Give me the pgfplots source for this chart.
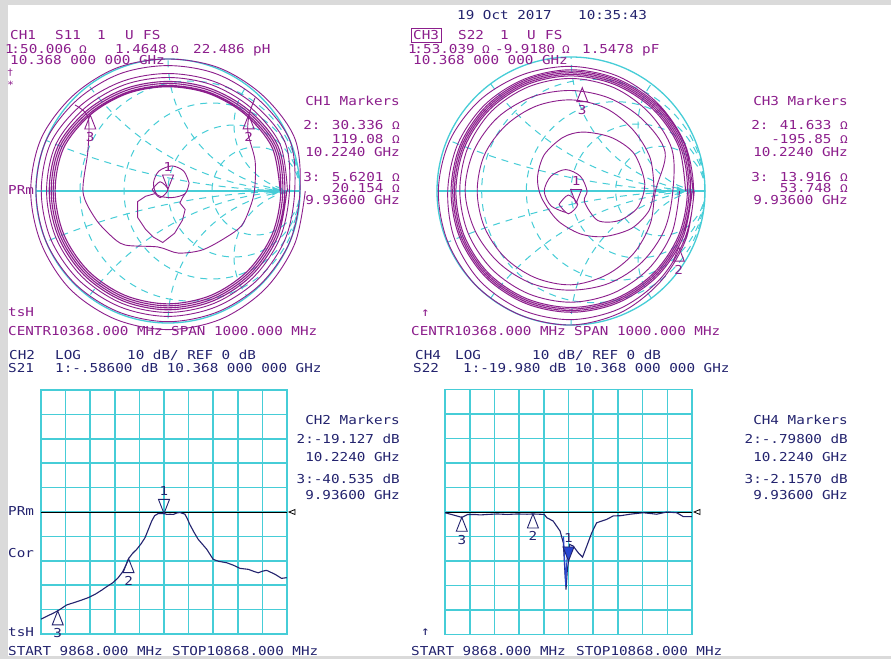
\documentclass[border=0pt]{standalone}
\usepackage{pgfplots}
\pgfplotsset{compat=1.18}
\usepackage{fontspec}
\newfontfamily\vna[FakeStretch=1.16]{DejaVu Sans Mono}
\newcommand{\vf}{\vna\fontsize{12.3}{14}\selectfont}
\newcommand{\om}{{\fontsize{11}{11}\selectfont Ω}}
\definecolor{vpur}{RGB}{140,30,140}
\definecolor{vnav}{RGB}{35,35,110}
\definecolor{vblu}{RGB}{40,70,210}
\definecolor{vcy}{RGB}{70,205,215}
\definecolor{vgray}{RGB}{218,218,218}
\newcommand{\TL}[4]{\node[anchor=base west,inner sep=0pt,text=#3] at (#1pt,-#2pt) {\vf #4};}
\newcommand{\TR}[4]{\node[anchor=base east,inner sep=0pt,text=#3] at (#1pt,-#2pt) {\vf #4};}
\newcommand{\mkup}[4]{\draw[#1,line width=0.9pt] (axis cs:#2,#3) -- ++(-5.5pt,-14pt) -- ++(11pt,0pt) -- cycle; \path (axis cs:#2,#3) ++(0pt,-27pt) node[anchor=base,inner sep=0pt,text=#1] {\vf #4};}
\newcommand{\mkdn}[4]{\draw[#1,line width=0.9pt] (axis cs:#2,#3) -- ++(-5.5pt,14pt) -- ++(11pt,0pt) -- cycle; \path (axis cs:#2,#3) ++(0pt,18pt) node[anchor=base,inner sep=0pt,text=#1] {\vf #4};}
\newcommand{\smithgrid}{%
 \begin{scope}
 \clip (axis cs:0,0) circle [radius=1];
 \draw[vcy,line width=1pt,dash pattern=on 7pt off 6pt] (axis cs:0.1667,0) circle [radius=0.8333];
 \draw[vcy,line width=1pt,dash pattern=on 7pt off 6pt] (axis cs:0.3333,0) circle [radius=0.6667];
 \draw[vcy,line width=1pt,dash pattern=on 7pt off 6pt] (axis cs:0.5,0) circle [radius=0.5];
 \draw[vcy,line width=1pt,dash pattern=on 7pt off 6pt] (axis cs:0.6667,0) circle [radius=0.3333];
 \draw[vcy,line width=1pt,dash pattern=on 7pt off 6pt] (axis cs:1,5) circle [radius=5];
 \draw[vcy,line width=1pt,dash pattern=on 7pt off 6pt] (axis cs:1,-5) circle [radius=5];
 \draw[vcy,line width=1pt,dash pattern=on 7pt off 6pt] (axis cs:1,2) circle [radius=2];
 \draw[vcy,line width=1pt,dash pattern=on 7pt off 6pt] (axis cs:1,-2) circle [radius=2];
 \draw[vcy,line width=1pt,dash pattern=on 7pt off 6pt] (axis cs:1,1) circle [radius=1];
 \draw[vcy,line width=1pt,dash pattern=on 7pt off 6pt] (axis cs:1,-1) circle [radius=1];
 \draw[vcy,line width=1pt,dash pattern=on 7pt off 6pt] (axis cs:1,0.5) circle [radius=0.5];
 \draw[vcy,line width=1pt,dash pattern=on 7pt off 6pt] (axis cs:1,-0.5) circle [radius=0.5];
 \end{scope}
 \draw[vcy,line width=1.3pt] (axis cs:0,0) circle [radius=1];
 \draw[vcy,line width=1.3pt] (axis cs:-1,0) -- (axis cs:1,0);
 \fill[vcy] (axis cs:0.79,0.035) -- (axis cs:0.86,0) -- (axis cs:0.79,-0.035) -- cycle;
}
\pgfplotsset{rectax/.style={scale only axis, anchor=north west,
  xmin=9.868, xmax=10.868, ymin=-50, ymax=50,
  xtick={9.868,9.968,10.068,10.168,10.268,10.368,10.468,10.568,10.668,10.768,10.868},
  ytick={-50,-40,-30,-20,-10,0,10,20,30,40,50},
  xticklabels={}, yticklabels={}, major tick length=0pt,
  grid=major, major grid style={vcy,line width=1.6pt},
  axis line style={vcy,line width=1.6pt}, clip=false},
  smithax/.style={scale only axis, anchor=north west, xmin=-1, xmax=1, ymin=-1, ymax=1,
  hide axis, clip=false}}
\begin{document}
\begin{tikzpicture}
\fill[vgray] (0pt,0pt) rectangle (891pt,-659pt);
\fill[white] (8pt,-5pt) rectangle (891pt,-656pt);

% ---------- S11 Smith chart ----------
\begin{axis}[smithax, at={(36pt,-59pt)}, width=264pt, height=264pt]
\smithgrid
\addplot[vpur, line width=0.9pt, data cs=polar, smooth, tension=0.55] coordinates {
(0,1.04) (-22.5,1.04) (-45,1.045) (-67.5,1.05) (-90,1.05) (-112.5,1.05) (-135,1.05) (-157.5,1.04)
(-180,1.04) (-202.5,1.04) (-225,1.02) (-247.5,1.01) (-270,1.00) (-292.5,1.01) (-315,1.02) (-337.5,1.04)
(0,1.00) (-22.5,1.00) (-45,0.995) (-67.5,0.99) (-90,0.99) (-112.5,0.99) (-135,0.995) (-157.5,1.00)
(-180,1.00) (-202.5,1.00) (-225,0.975) (-247.5,0.96) (-270,0.95) (-292.5,0.96) (-315,0.975) (-337.5,1.00)
(0,0.96) (-22.5,0.96) (-45,0.955) (-67.5,0.95) (-90,0.95) (-112.5,0.95) (-135,0.955) (-157.5,0.96)
(-180,0.96) (-202.5,0.96) (-225,0.925) (-247.5,0.90) (-270,0.89) (-292.5,0.90) (-315,0.925) (-337.5,0.96)
(0,0.92) (-22.5,0.92) (-45,0.92) (-67.5,0.92) (-90,0.92) (-112.5,0.92) (-135,0.92) (-157.5,0.92)
(-180,0.92) (-202.5,0.92) (-225,0.89) (-247.5,0.87) (-270,0.86) (-292.5,0.87) (-315,0.89) (-337.5,0.92)
(0,0.905)};
\addplot[vpur, line width=1.1pt, data cs=polar, smooth, tension=0.55] coordinates {
(0,0.90) (-22.5,0.90) (-45,0.90) (-67.5,0.90) (-90,0.90) (-112.5,0.90) (-135,0.90) (-157.5,0.90)
(-180,0.90) (-202.5,0.90) (-225,0.865) (-247.5,0.84) (-270,0.83) (-292.5,0.84) (-315,0.865) (-337.5,0.90)
(0,0.885) (-22.5,0.885) (-45,0.885) (-67.5,0.885) (-90,0.885) (-112.5,0.885) (-135,0.885) (-157.5,0.885)
(-180,0.885) (-202.5,0.885) (-225,0.85) (-247.5,0.825) (-270,0.815) (-292.5,0.825) (-315,0.85) (-337.5,0.885)
(0,0.87) (-22.5,0.87) (-45,0.87) (-67.5,0.87) (-90,0.87) (-112.5,0.87) (-135,0.87) (-157.5,0.87)
(-180,0.87) (-202.5,0.87) (-225,0.835) (-247.5,0.81) (-270,0.80) (-292.5,0.81) (-315,0.835) (-337.5,0.87)
(0,0.855) (-22.5,0.855) (-45,0.855) (-67.5,0.855) (-90,0.855) (-112.5,0.855) (-135,0.855) (-157.5,0.855)
(-180,0.855) (-202.5,0.855) (-225,0.823) (-247.5,0.80) (-270,0.79) (-292.5,0.80) (-315,0.823) (-337.5,0.855)
(0,0.85)};
\addplot[vpur, line width=0.9pt, smooth, tension=0.5] coordinates {
(-0.705,0.652) (-0.606,0.561) (-0.606,0.311) (-0.644,-0.008) (-0.553,-0.205) (-0.439,-0.333)
(-0.326,-0.409) (-0.076,-0.424) (0.076,-0.470) (0.258,-0.447) (0.432,-0.356) (0.561,-0.258)
(0.636,-0.083) (0.659,0.045) (0.659,0.235) (0.606,0.439) (0.614,0.576) (0.659,0.705)};
\addplot[vpur, line width=0.9pt, smooth, tension=0.5] coordinates {
(0.16,0.06) (0.12,0.15) (0.03,0.19) (-0.07,0.15) (-0.11,0.06) (-0.08,-0.03) (0.03,-0.05) (0.13,-0.02) (0.16,0.06)};
\addplot[vpur, line width=0.9pt, smooth] coordinates {
(-0.12,0.01) (-0.06,-0.05) (0,0.01) (-0.06,0.07) (-0.12,0.01)};
\addplot[vpur, line width=0.9pt] coordinates {
(-0.10,-0.02) (-0.17,-0.04) (-0.23,-0.08) (-0.23,-0.20) (-0.17,-0.29) (-0.11,-0.35) (-0.04,-0.39)
(0.05,-0.32) (0.11,-0.22) (0.13,-0.14) (0.09,-0.09) (0.11,-0.05) (0.13,-0.02)};
\mkdn{vpur}{0.0}{0.015}{1}
\mkup{vpur}{0.611}{0.577}{2}
\mkup{vpur}{-0.589}{0.576}{3}
\end{axis}

% ---------- S22 Smith chart ----------
\begin{axis}[smithax, at={(437pt,-57pt)}, width=268pt, height=268pt]
\smithgrid
\addplot[vpur, line width=0.9pt, data cs=polar, smooth, tension=0.55] coordinates {
(0,0.92) (-22.5,0.93) (-45,0.95) (-67.5,0.98) (-90,1.00) (-112.5,1.00) (-135,1.00) (-157.5,0.995)
(-180,0.99) (-202.5,0.98) (-225,0.96) (-247.5,0.94) (-270,0.93) (-292.5,0.925) (-315,0.92) (-337.5,0.92)
(0,0.915) (-22.5,0.92) (-45,0.935) (-67.5,0.95) (-90,0.96) (-112.5,0.96) (-135,0.955) (-157.5,0.94)
(-180,0.92) (-202.5,0.915) (-225,0.91) (-247.5,0.905) (-270,0.905) (-292.5,0.905) (-315,0.91) (-337.5,0.915)
(0,0.91)};
\addplot[vpur, line width=1.0pt, data cs=polar, smooth, tension=0.55] coordinates {
(0,0.905) (-22.5,0.905) (-45,0.905) (-67.5,0.905) (-90,0.905) (-112.5,0.905) (-135,0.905) (-157.5,0.9)
(-180,0.895) (-202.5,0.895) (-225,0.895) (-247.5,0.895) (-270,0.895) (-292.5,0.895) (-315,0.9) (-337.5,0.905)
(0,0.893) (-22.5,0.893) (-45,0.893) (-67.5,0.893) (-90,0.893) (-112.5,0.893) (-135,0.893) (-157.5,0.888)
(-180,0.883) (-202.5,0.883) (-225,0.883) (-247.5,0.883) (-270,0.883) (-292.5,0.883) (-315,0.888) (-337.5,0.893)
(0,0.881) (-22.5,0.881) (-45,0.881) (-67.5,0.881) (-90,0.881) (-112.5,0.881) (-135,0.881) (-157.5,0.876)
(-180,0.871) (-202.5,0.871) (-225,0.871) (-247.5,0.871) (-270,0.871) (-292.5,0.871) (-315,0.876) (-337.5,0.881)
(0,0.869) (-22.5,0.869) (-45,0.869) (-67.5,0.869) (-90,0.869) (-112.5,0.869) (-135,0.869) (-157.5,0.864)
(-180,0.859) (-202.5,0.859) (-225,0.859) (-247.5,0.859) (-270,0.859) (-292.5,0.859) (-315,0.864) (-337.5,0.869)
(0,0.855)};
\addplot[vpur, line width=0.9pt, data cs=polar, smooth, tension=0.55] coordinates {
(0,0.81) (-22.5,0.815) (-45,0.82) (-67.5,0.825) (-90,0.83) (-112.5,0.83) (-135,0.83) (-157.5,0.83)
(-180,0.83) (-202.5,0.835) (-225,0.84) (-247.5,0.84) (-270,0.84) (-292.5,0.835) (-315,0.825) (-337.5,0.815)
(0,0.76) (-22.5,0.755) (-45,0.75) (-67.5,0.745) (-90,0.74) (-112.5,0.75) (-135,0.76) (-157.5,0.775)
(-180,0.79) (-202.5,0.785) (-225,0.775) (-247.5,0.76) (-270,0.75) (-292.5,0.75) (-315,0.755) (-337.5,0.76)
(0,0.63) (-22.5,0.64) (-45,0.66) (-67.5,0.68) (-90,0.70) (-112.5,0.70) (-135,0.70) (-157.5,0.70)
(-180,0.70) (-202.5,0.70) (-225,0.69) (-247.5,0.685) (-270,0.68) (-292.5,0.67) (-315,0.65) (-337.5,0.64)
(0,0.62)};
\addplot[vpur, line width=0.9pt, smooth, tension=0.5] coordinates {
(0.62,0) (0.58,-0.15) (0.45,-0.28) (0.25,-0.34) (0.07,-0.32) (-0.10,-0.22) (-0.22,-0.05) (-0.25,0.10)
(-0.20,0.27) (-0.06,0.40) (0.09,0.44) (0.30,0.40) (0.47,0.28) (0.55,0.06) (0.50,-0.12) (0.36,-0.22)
(0.20,-0.22) (0.10,-0.08) (0.12,0.0) (0.07,0.11) (-0.04,0.16) (-0.15,0.11) (-0.20,0.0) (-0.15,-0.11)
(-0.04,-0.16)};
\addplot[vpur, line width=0.9pt, smooth] coordinates {
(-0.09,-0.10) (-0.02,-0.03) (0.05,-0.10) (-0.02,-0.17) (-0.09,-0.10)};
\mkdn{vpur}{0.038}{-0.093}{1}
\mkup{vpur}{0.804}{-0.419}{2}
\mkup{vpur}{0.084}{0.771}{3}
\end{axis}

% ---------- S21 log mag ----------
\begin{axis}[rectax, at={(41pt,-390pt)}, width=246pt, height=244pt]
\addplot[black, line width=1pt] coordinates {(9.868,0) (10.868,0)};
\draw[black, line width=0.8pt] (axis cs:10.868,0) ++(2pt,0pt) -- ++(6pt,2.5pt) -- ++(0pt,-5pt) -- cycle;
\addplot[vnav, line width=1.1pt] coordinates {
(9.868,-43.9) (9.890,-42.8) (9.915,-41.6) (9.936,-40.5) (9.950,-39.6) (9.972,-38.1) (10.000,-37.2)
(10.030,-36.2) (10.060,-35.1) (10.090,-33.6) (10.115,-32.0) (10.135,-30.6) (10.160,-29.0) (10.182,-26.9)
(10.200,-24.5) (10.212,-22.0) (10.224,-19.1) (10.240,-17.0) (10.257,-15.3) (10.275,-13.0) (10.291,-10.5)
(10.305,-7.0) (10.318,-3.7) (10.330,-1.5) (10.345,-0.6) (10.368,-0.6) (10.380,-1.0) (10.392,-0.9)
(10.406,-1.0) (10.420,-0.4) (10.433,-0.2) (10.453,-0.9) (10.463,-2.8) (10.473,-5.1) (10.490,-8.3)
(10.507,-11.2) (10.525,-13.3) (10.542,-15.3) (10.568,-19.4) (10.590,-20.2) (10.623,-20.8) (10.650,-21.8)
(10.677,-23.1) (10.711,-23.5) (10.735,-24.4) (10.751,-24.9) (10.770,-24.2) (10.785,-23.9) (10.800,-24.6)
(10.819,-25.5) (10.846,-27.2) (10.867,-26.9)};
\mkdn{vnav}{10.368}{-0.586}{1}
\mkup{vnav}{10.224}{-19.127}{2}
\mkup{vnav}{9.936}{-40.535}{3}
\end{axis}

% ---------- S22 log mag ----------
\begin{axis}[rectax, at={(445pt,-389.5pt)}, width=247pt, height=245pt]
\addplot[black, line width=1pt] coordinates {(9.868,0) (10.868,0)};
\draw[black, line width=0.8pt] (axis cs:10.868,0) ++(2pt,0pt) -- ++(6pt,2.5pt) -- ++(0pt,-5pt) -- cycle;
\addplot[vnav, line width=1.1pt] coordinates {
(9.868,-0.3) (9.890,-0.9) (9.905,-1.3) (9.936,-2.2) (9.960,-1.0) (9.990,-1.0) (10.010,-1.2) (10.040,-1.0)
(10.080,-0.8) (10.120,-1.0) (10.160,-0.8) (10.200,-0.9) (10.224,-0.8) (10.250,-0.9) (10.270,-1.0)
(10.280,-2.3) (10.306,-3.7) (10.334,-7.8) (10.347,-12.6) (10.354,-25.5) (10.358,-31.7) (10.363,-24.0)
(10.368,-19.98) (10.372,-13.2) (10.387,-13.9) (10.408,-16.7) (10.425,-18.4) (10.442,-13.9) (10.462,-8.5)
(10.482,-4.4) (10.523,-3.0) (10.549,-1.6) (10.580,-1.5) (10.617,-0.9) (10.671,-0.3) (10.725,-0.9)
(10.766,0.0) (10.806,-0.3) (10.833,-1.9) (10.867,-1.9)};
\addplot[vblu, line width=1pt] coordinates {
(10.348,-10.0) (10.353,-21.0) (10.357,-30.0) (10.360,-22.0) (10.365,-15.0)};
\fill[vblu] (axis cs:10.368,-19.98) -- ++(-5.5pt,14pt) -- ++(11pt,0pt) -- cycle;
\mkdn{vnav}{10.368}{-19.98}{1}
\mkup{vnav}{10.224}{-0.798}{2}
\mkup{vnav}{9.936}{-2.157}{3}
\end{axis}

% ---------- texts ----------
\TL{457}{19.5}{vnav}{19 Oct 2017}
\TL{578}{19.5}{vnav}{10:35:43}
% CH1 header
\TL{10}{39.5}{vpur}{CH1}
\TL{55}{39.5}{vpur}{S11}
\TL{97}{39.5}{vpur}{1}
\TL{125}{39.5}{vpur}{U}
\TL{143}{39.5}{vpur}{FS}
\TL{5}{53.5}{vpur}{1\kern-2.5pt:}
\TL{20}{53.5}{vpur}{50.006}
\TL{79}{53.5}{vpur}{\om}
\TL{115}{53.5}{vpur}{1.4648}
\TL{171}{53.5}{vpur}{\om}
\TL{193}{53.5}{vpur}{22.486}
\TL{253}{53.5}{vpur}{pH}
\TL{10}{64.5}{vpur}{10.368 000 000 GHz}
\node[anchor=base west,inner sep=0pt,text=vpur] at (7pt,-75pt) {\vna\fontsize{9}{9}\selectfont †};
\node[anchor=base west,inner sep=0pt,text=vpur] at (7pt,-88pt) {\vna\fontsize{10}{10}\selectfont *};
% CH3 header
\draw[vpur, line width=0.8pt] (411pt,-28pt) rectangle (441pt,-42pt);
\TL{413}{39.5}{vpur}{CH3}
\TL{458}{39.5}{vpur}{S22}
\TL{500}{39.5}{vpur}{1}
\TL{527}{39.5}{vpur}{U}
\TL{545}{39.5}{vpur}{FS}
\TL{408}{53.5}{vpur}{1\kern-2.5pt:}
\TL{423}{53.5}{vpur}{53.039}
\TL{482}{53.5}{vpur}{\om}
\TL{495}{53.5}{vpur}{-9.9180}
\TL{562}{53.5}{vpur}{\om}
\TL{582}{53.5}{vpur}{1.5478}
\TL{642}{53.5}{vpur}{pF}
\TL{413}{64.5}{vpur}{10.368 000 000 GHz}
% CH1 markers
\TR{400}{105.5}{vpur}{CH1 Markers}
\TR{400}{129.5}{vpur}{2: 30.336 \om}
\TR{400}{143.5}{vpur}{119.08 \om}
\TR{400}{156.5}{vpur}{10.2240 GHz}
\TR{400}{181.5}{vpur}{3: 5.6201 \om}
\TR{400}{192.5}{vpur}{20.154 \om}
\TR{400}{204.5}{vpur}{9.93600 GHz}
% CH3 markers
\TR{848}{105.5}{vpur}{CH3 Markers}
\TR{848}{129.5}{vpur}{2: 41.633 \om}
\TR{848}{143.5}{vpur}{-195.85 \om}
\TR{848}{156.5}{vpur}{10.2240 GHz}
\TR{848}{181.5}{vpur}{3: 13.916 \om}
\TR{848}{192.5}{vpur}{53.748 \om}
\TR{848}{204.5}{vpur}{9.93600 GHz}
% Smith footers
\TL{8}{194.5}{vpur}{PRm}
\TL{8}{316.5}{vpur}{tsH}
\TL{8}{335.5}{vpur}{CENTR10368.000 MHz}
\TL{171}{335.5}{vpur}{SPAN 1000.000 MHz}
\TL{421}{316.5}{vpur}{↑}
\TL{411}{335.5}{vpur}{CENTR10368.000 MHz}
\TL{574}{335.5}{vpur}{SPAN 1000.000 MHz}
% CH2 header
\TL{9}{359.5}{vnav}{CH2}
\TL{55}{359.5}{vnav}{LOG}
\TL{127}{359.5}{vnav}{10 dB/ REF 0 dB}
\TL{8}{372.5}{vnav}{S21}
\TL{55}{372.5}{vnav}{1:-.58600 dB 10.368 000 000 GHz}
% CH4 header
\TL{415}{359.5}{vnav}{CH4}
\TL{455}{359.5}{vnav}{LOG}
\TL{532}{359.5}{vnav}{10 dB/ REF 0 dB}
\TL{413}{372.5}{vnav}{S22}
\TL{463}{372.5}{vnav}{1:-19.980 dB 10.368 000 000 GHz}
% CH2 markers
\TR{400}{424}{vnav}{CH2 Markers}
\TR{400}{443}{vnav}{2:-19.127 dB}
\TR{400}{461.5}{vnav}{10.2240 GHz}
\TR{400}{483.5}{vnav}{3:-40.535 dB}
\TR{400}{499.5}{vnav}{9.93600 GHz}
% CH4 markers
\TR{848}{424}{vnav}{CH4 Markers}
\TR{848}{443}{vnav}{2:-.79800 dB}
\TR{848}{461.5}{vnav}{10.2240 GHz}
\TR{848}{483.5}{vnav}{3:-2.1570 dB}
\TR{848}{499.5}{vnav}{9.93600 GHz}
% bottom labels
\TL{8}{515.5}{vnav}{PRm}
\TL{8}{557.5}{vnav}{Cor}
\TL{8}{636.5}{vnav}{tsH}
\TL{8}{655.5}{vnav}{START 9868.000 MHz}
\TL{172}{655.5}{vnav}{STOP10868.000 MHz}
\TL{421}{635.5}{vnav}{↑}
\TL{411}{655.5}{vnav}{START 9868.000 MHz}
\TL{576}{655.5}{vnav}{STOP10868.000 MHz}
\pgfresetboundingbox
\useasboundingbox (0pt,0pt) rectangle (891pt,-659pt);
\end{tikzpicture}
\end{document}
